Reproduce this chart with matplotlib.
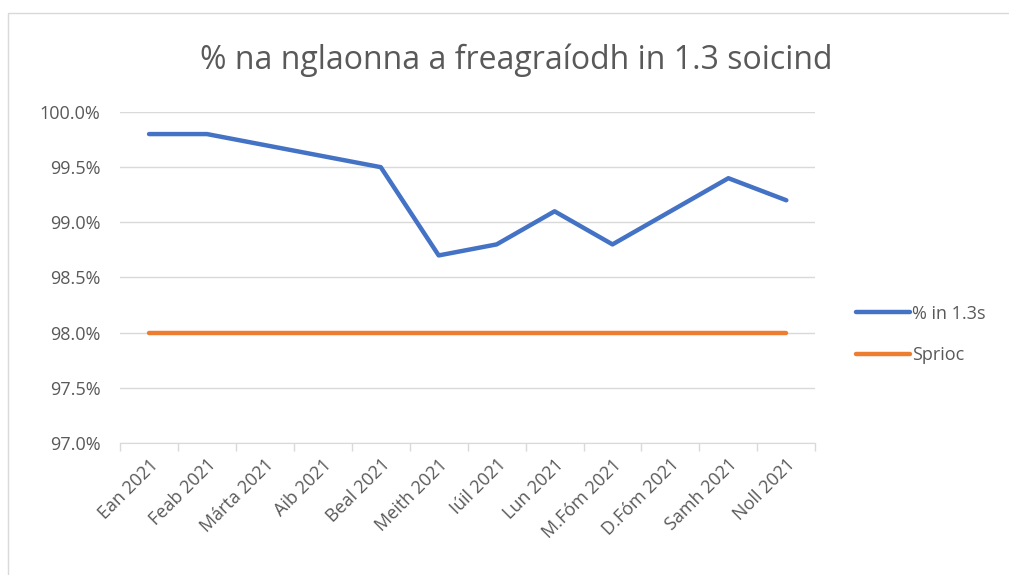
import matplotlib
matplotlib.use('Agg')
import matplotlib.pyplot as plt
from matplotlib.patches import Rectangle
from matplotlib.ticker import FixedLocator, PercentFormatter
import numpy as np

months = ['Ean 2021', 'Feab 2021', 'Márta 2021', 'Aib 2021', 'Beal 2021', 'Meith 2021',
          'Iúil 2021', 'Lun 2021', 'M.Fóm 2021', 'D.Fóm 2021', 'Samh 2021', 'Noll 2021']
pct_13s = [99.8, 99.8, 99.7, 99.6, 99.5, 98.7, 98.8, 99.1, 98.8, 99.1, 99.4, 99.2]
target = [98.0] * 12

C_BLUE = '#4472C4'
C_ORANGE = '#ED7D31'
C_TEXT = '#595959'
C_GRID = '#D9D9D9'

plt.rcParams['font.family'] = ['Open Sans', 'DejaVu Sans']

fig = plt.figure(figsize=(10.09, 5.75), dpi=100)
ax = fig.add_axes([0.119, 0.2296, 0.689, 0.5756])

x = np.arange(len(months))
ax.plot(x, pct_13s, color=C_BLUE, lw=3.2, solid_capstyle='round', label='% in 1.3s')
ax.plot(x, target, color=C_ORANGE, lw=3.2, solid_capstyle='round', label='Sprioc')

ax.set_xlim(-0.5, len(months) - 0.5)
ax.set_ylim(97.0, 100.0)
ax.set_yticks(np.arange(97.0, 100.01, 0.5))
ax.yaxis.set_major_formatter(PercentFormatter(decimals=1))
ax.grid(axis='y', color=C_GRID, lw=1)
ax.set_axisbelow(True)

ax.set_xticks(x)
ax.set_xticklabels(months, rotation=45, ha='right', rotation_mode='anchor',
                   fontsize=13, color=C_TEXT)
ax.xaxis.set_minor_locator(FixedLocator(np.arange(-0.5, len(months), 1)))
ax.tick_params(axis='x', which='major', length=0, pad=9)
ax.tick_params(axis='x', which='minor', length=6, color=C_GRID, width=1)
ax.tick_params(axis='y', length=0, labelsize=13, labelcolor=C_TEXT, pad=14)

for s in ['top', 'right', 'left']:
    ax.spines[s].set_visible(False)
ax.spines['bottom'].set_color(C_GRID)

fig.text(0.512, 0.895, '% na nglaonna a freagraíodh in 1.3 soicind',
         ha='center', va='center', fontsize=23, color=C_TEXT)

ax.legend(loc='center left', bbox_to_anchor=(1.035, 0.328), frameon=False,
          fontsize=13, labelcolor=C_TEXT, handlelength=3.0, handletextpad=0.1,
          labelspacing=1.3)

fig.patches.append(Rectangle((8 / 1009, -0.01), 1.1, 1 - 13 / 575 + 0.01,
                             transform=fig.transFigure, fill=False,
                             edgecolor=C_GRID, lw=1))

fig.savefig('out.png', dpi=100, facecolor='white')
